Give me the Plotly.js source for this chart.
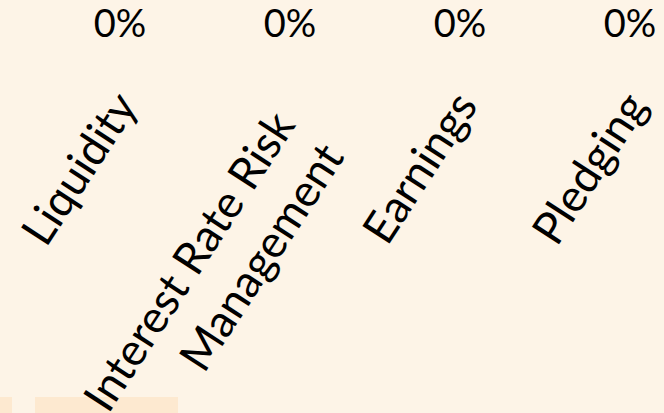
<!DOCTYPE html>
<html>
<head>
<meta charset="utf-8">
<script src="https://cdn.plot.ly/plotly-3.0.1.min.js"></script>
<style>html,body{margin:0;padding:0;background:#FDF4E7;}#chart{width:664px;height:413px;}</style>
</head>
<body>
<div id="chart"></div>
<script>
const categories = ["Liquidity", "Interest Rate Risk\u00A0\u00A0<br>Management\u00A0\u00A0", "Earnings", "Pledging"];
const values = [0, 0, 0, 0];
const valueLabels = ["0%", "0%", "0%", "0%"];

const bg = "#FDF4E7";
const trace = {
  type: "bar",
  x: [0, 1, 2, 3],
  y: values,
  text: valueLabels,
  textposition: "outside",
  cliponaxis: false,
  textfont: {family: "Lato, 'Open Sans', sans-serif", size: 38, color: "#000000"},
  marker: {color: "#C0504D"},
  hoverinfo: "skip"
};
const plotH = 48;
const layout = {
  width: 664, height: 413,
  paper_bgcolor: bg, plot_bgcolor: bg,
  margin: {l: 0, r: 0, t: 0, b: 413 - plotH, pad: 0},
  showlegend: false,
  xaxis: {
    range: [-0.706, 3.2],
    tickmode: "array", tickvals: [0, 1, 2, 3], ticktext: categories,
    tickangle: -57, showgrid: false, zeroline: false, showline: false, ticks: "",
    automargin: false, ticklabelstandoff: 22,
    tickfont: {family: "Lato, 'Open Sans', sans-serif", size: 45, color: "#000000"}
  },
  yaxis: {range: [0, 1], visible: false, fixedrange: true},
  shapes: [
    {type: "rect", xref: "paper", yref: "paper", x0: 0, x1: 12/664, y0: -(397-plotH)/plotH, y1: -(413-plotH)/plotH, fillcolor: "#FDE9D0", line: {width: 0}, layer: "below"},
    {type: "rect", xref: "paper", yref: "paper", x0: 35/664, x1: 178/664, y0: -(397-plotH)/plotH, y1: -(413-plotH)/plotH, fillcolor: "#FDE9D0", line: {width: 0}, layer: "below"}
  ]
};
Plotly.newPlot("chart", [trace], layout, {displayModeBar: false, staticPlot: true});
</script>
</body>
</html>
